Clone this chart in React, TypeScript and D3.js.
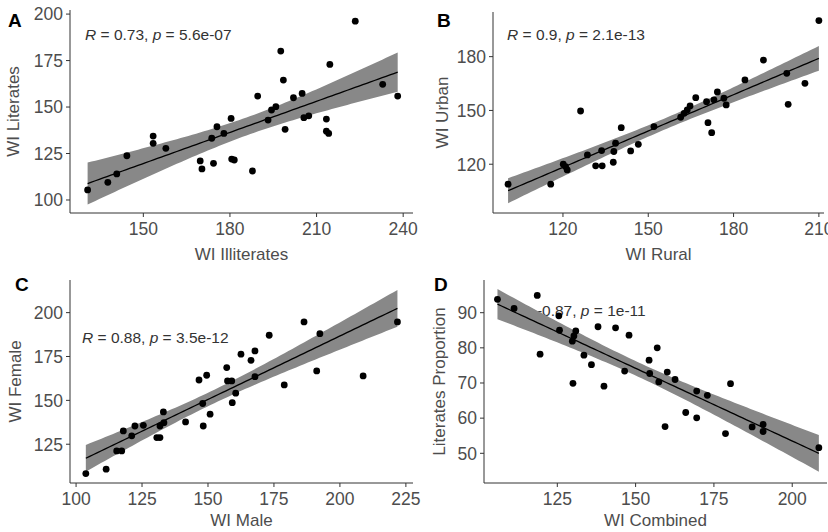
import React from 'react';
import * as d3 from 'd3';

// panel A: WI Illiterates vs WI Literates
const illiterates = [130.7, 137.7, 140.8, 144.3, 153.4, 153.4, 157.8, 169.7, 170.3, 173.7, 175.5, 174.3, 177.9, 180.4, 180.6, 181.5, 187.8, 189.6, 193.2, 194.4, 195.9, 197.6, 198.5, 199.1, 202, 205, 205.6, 207.3, 213.4, 213.4, 214.2, 214.6, 223.4, 232.9, 238.1];
const literates = [105.4, 109.5, 114, 123.8, 134.4, 130.5, 127.8, 121, 116.7, 133.2, 139.4, 119.7, 135.8, 143.9, 122, 121.5, 115.6, 155.9, 143, 148.4, 150.2, 180.1, 164.5, 138, 155, 157.3, 144.3, 145.3, 143.5, 137, 135.8, 172.9, 196.2, 162.2, 155.9];

// panel B: WI Rural vs WI Urban
const rural = [100.7, 115.7, 120.1, 120.9, 121.5, 126.2, 128.6, 131.5, 133.8, 133.6, 137.7, 137.9, 138.5, 140.5, 143.8, 146.5, 152, 161.4, 162.6, 163.7, 164.7, 166.7, 170.5, 171, 172.3, 173.1, 174.3, 176.6, 177.4, 184, 190.5, 198.7, 199.2, 205.1, 210];
const urban = [108.9, 108.9, 120, 118.7, 116.8, 149.7, 125.2, 119.1, 119.1, 127.6, 121.1, 127.1, 131.7, 140.4, 127.4, 131.1, 141, 146.2, 148.4, 150.3, 152.5, 157.1, 154.9, 143.2, 137.6, 155.9, 160.3, 156.8, 153.1, 167, 178.1, 170.7, 153.4, 165.1, 200.1];

// panel C: WI Male vs WI Female
const male = [103.7, 111.4, 115.4, 117.3, 117.9, 121.1, 122.3, 125.5, 130.6, 131.8, 131.8, 133.1, 133.3, 141.5, 146.6, 148, 148.2, 149.5, 150.8, 157.1, 157.4, 159, 159.2, 160.5, 162.5, 166.3, 167.8, 167.8, 173.2, 178.9, 186.4, 191.2, 192.4, 208.8, 221.8];
const female = [108.3, 110.8, 121.2, 121.2, 132.6, 129.8, 135.4, 135.8, 128.8, 128.8, 135.4, 143.4, 137.3, 137.7, 161.6, 148.2, 135.4, 164.3, 142.1, 168.7, 161.1, 161.1, 148.7, 154.1, 176.3, 172.8, 178.2, 163.5, 187.1, 158.8, 194.7, 166.8, 188, 163.9, 194.7];

// panel D: WI Combined vs Literates Proportion
const combined = [105.9, 111.2, 118.6, 119.5, 125.5, 125.7, 129.8, 130.3, 130.9, 130, 133.5, 135.9, 138, 139.9, 143.6, 146.5, 147.9, 154.3, 154.5, 156.9, 157.4, 159.4, 160.1, 162.6, 166, 169.5, 169.5, 172.9, 178.7, 180.3, 187.2, 190.7, 190.7, 208.5];
const proportion = [93.8, 91.2, 94.9, 78.2, 89.1, 85, 81.9, 83.4, 84.8, 69.9, 77.9, 75.2, 86, 69.1, 85.7, 73.4, 83.6, 76.5, 72.7, 80, 70.3, 57.6, 73.1, 71, 61.6, 67.7, 60.1, 66.5, 55.6, 69.8, 57.5, 58.2, 56.2, 51.6];

const ticksA = { x: [150, 180, 210, 240], y: [100, 125, 150, 175, 200] };
const ticksB = { x: [120, 150, 180, 210], y: [120, 150, 180] };
const ticksC = { x: [100, 125, 150, 175, 200, 225], y: [125, 150, 175, 200] };
const ticksD = { x: [125, 150, 175, 200], y: [50, 60, 70, 80, 90] };

const FONT = '"Liberation Sans", Arial, sans-serif';

// t quantile 0.975 approx for df around 32
const T975 = 2.035;

function fit(xs: number[], ys: number[]) {
  const n = xs.length;
  const mx = d3.mean(xs)!;
  const my = d3.mean(ys)!;
  let sxx = 0, sxy = 0;
  xs.forEach((x, i) => { sxx += (x - mx) ** 2; sxy += (x - mx) * (ys[i] - my); });
  const b = sxy / sxx;
  const a = my - b * mx;
  let sse = 0;
  xs.forEach((x, i) => { sse += (ys[i] - a - b * x) ** 2; });
  const s = Math.sqrt(sse / (n - 2));
  const [x0, x1] = d3.extent(xs) as [number, number];
  const grid = d3.range(0, 81).map((k) => x0 + (x1 - x0) * k / 80);
  return grid.map((x) => {
    const yhat = a + b * x;
    const se = s * Math.sqrt(1 / n + (x - mx) ** 2 / sxx);
    return { x, y: yhat, lo: yhat - T975 * se, hi: yhat + T975 * se };
  });
}

type PanelProps = {
  letter: string; lx: number; ly: number;
  xs: number[]; ys: number[];
  box: { l: number; r: number; t: number; b: number };
  xDom: [number, number]; yDom: [number, number];
  ticks: { x: number[]; y: number[] };
  xTitle: string; yTitle: string; yTitleX: number; xTitleY: number;
  rVal: string; pVal: string; rx: number; ry: number;
};

function Panel(p: PanelProps) {
  const { box } = p;
  const x = d3.scaleLinear().domain(p.xDom).range([box.l, box.r]);
  const y = d3.scaleLinear().domain(p.yDom).range([box.b, box.t]);
  const f = fit(p.xs, p.ys);
  const band = d3.area<any>().x((d) => x(d.x)).y0((d) => y(d.lo)).y1((d) => y(d.hi))(f);
  const line = d3.line<any>().x((d) => x(d.x)).y((d) => y(d.y))(f);
  const axisCol = '#333';
  const txtCol = '#4d4d4d';
  return (
    <g fontFamily={FONT}>
      <text x={p.lx} y={p.ly} fontSize={19} fontWeight="bold" fill="#000">{p.letter}</text>
      <text x={p.rx} y={p.ry} fontSize={15.5} fill="#333">
        <tspan fontStyle="italic">R</tspan> = {p.rVal}, <tspan fontStyle="italic">p</tspan> = {p.pVal}
      </text>
      <path d={band!} fill="#888" />
      <path d={line!} fill="none" stroke="#000" strokeWidth={1.3} />
      {p.xs.map((v, i) => (
        <circle key={i} cx={x(v)} cy={y(p.ys[i])} r={3.4} fill="#000" />
      ))}
      <line x1={box.l} x2={box.l} y1={box.t} y2={box.b} stroke={axisCol} strokeWidth={1} />
      <line x1={box.l} x2={box.r} y1={box.b} y2={box.b} stroke={axisCol} strokeWidth={1} />
      {p.ticks.x.map((t) => (
        <g key={'x' + t}>
          <line x1={x(t)} x2={x(t)} y1={box.b} y2={box.b + 4} stroke={axisCol} />
          <text x={x(t)} y={box.b + 22} fontSize={17.5} fill={txtCol} textAnchor="middle">{t}</text>
        </g>
      ))}
      {p.ticks.y.map((t) => (
        <g key={'y' + t}>
          <line x1={box.l - 4} x2={box.l} y1={y(t)} y2={y(t)} stroke={axisCol} />
          <text x={box.l - 7} y={y(t)} dy="0.36em" fontSize={17.5} fill={txtCol} textAnchor="end">{t}</text>
        </g>
      ))}
      <text x={(box.l + box.r) / 2} y={p.xTitleY} fontSize={17} fill={txtCol} textAnchor="middle">{p.xTitle}</text>
      <text transform={`translate(${p.yTitleX},${(box.t + box.b) / 2}) rotate(-90)`} dy="0.36em" fontSize={17} fill={txtCol} textAnchor="middle">{p.yTitle}</text>
    </g>
  );
}

export default function App() {
  return (
    <div style={{ position: 'absolute', left: 0, top: 0 }}>
      <svg width={828} height={532} style={{ display: 'block', background: '#fff' }}>
        <Panel letter="A" lx={8} ly={27} xs={illiterates} ys={literates}
          box={{ l: 70, r: 413, t: 10, b: 213 }} xDom={[124.6, 243.4]} yDom={[93, 202.2]}
          ticks={ticksA} xTitle="WI Illiterates" yTitle="WI Literates" yTitleX={13} xTitleY={260}
          rVal="0.73" pVal="5.6e-07" rx={85} ry={40} />
        <Panel letter="B" lx={437} ly={27} xs={rural} ys={urban}
          box={{ l: 493, r: 824, t: 12, b: 213 }} xDom={[95.4, 211.8]} yDom={[92.8, 204.9]}
          ticks={ticksB} xTitle="WI Rural" yTitle="WI Urban" yTitleX={442} xTitleY={260}
          rVal="0.9" pVal="2.1e-13" rx={507} ry={40} />
        <Panel letter="C" lx={15} ly={291} xs={male} ys={female}
          box={{ l: 70, r: 413, t: 280, b: 483 }} xDom={[97.7, 227.7]} yDom={[102.9, 218.6]}
          ticks={ticksC} xTitle="WI Male" yTitle="WI Female" yTitleX={15} xTitleY={526}
          rVal="0.88" pVal="3.5e-12" rx={82} ry={343} />
        <Panel letter="D" lx={434} ly={291} xs={combined} ys={proportion}
          box={{ l: 484, r: 827, t: 280, b: 483 }} xDom={[101.6, 211.1]} yDom={[41.55, 99.3]}
          ticks={ticksD} xTitle="WI Combined" yTitle="Literates Proportion" yTitleX={439} xTitleY={526}
          rVal="-0.87" pVal="1e-11" rx={508} ry={316} />
      </svg>
    </div>
  );
}
